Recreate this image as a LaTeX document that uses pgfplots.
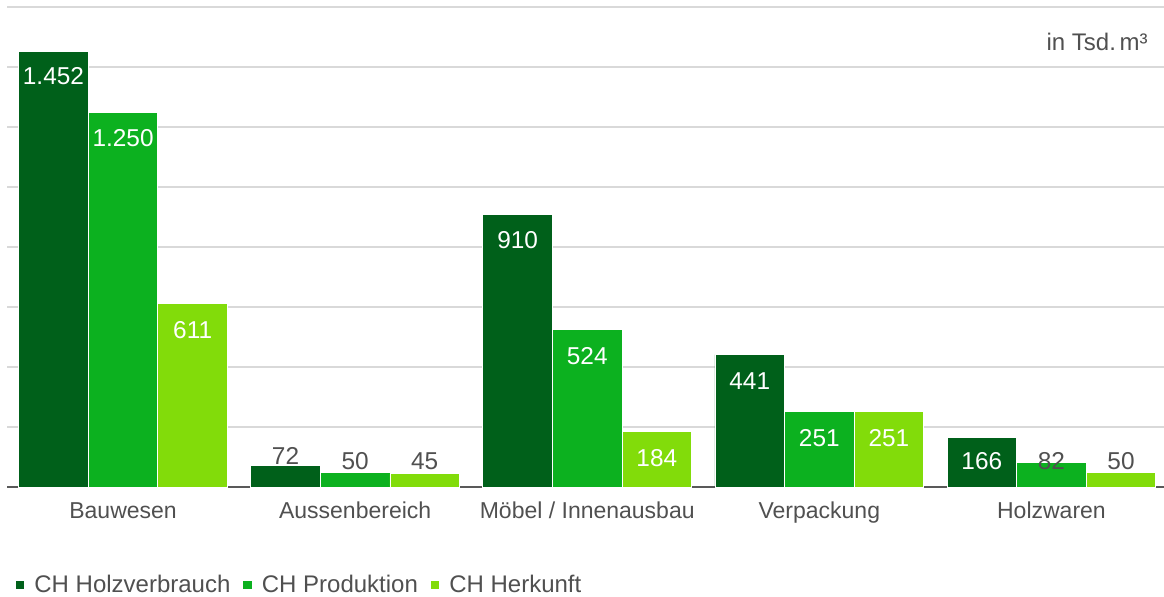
\documentclass[border=0pt]{standalone}
\usepackage{pgfplots}
\usepackage{pgfplotstable}
\pgfplotsset{compat=1.18}
\usepackage{fontspec}
\setmainfont{Liberation Sans}
\definecolor{cA}{RGB}{0,96,26}
\definecolor{cB}{RGB}{12,177,31}
\definecolor{cC}{RGB}{130,220,10}
\definecolor{lblgray}{RGB}{80,80,80}
\definecolor{gridgray}{RGB}{217,217,217}
\definecolor{axgray}{RGB}{89,89,89}

\pgfplotstableread{
x hv hvo hvc pr pro prc hk hko hkc
0 1452 -12.5 100 1250 -13 100 611 -13 100
1 72 4.7 0 50 5.5 0 45 6.25 0
2 910 -13 100 524 -13 100 184 -13 100
3 441 -13 100 251 -13 100 251 -13 100
4 166 -12 100 82 0.7 0 50 5.5 0
}\datatable

\begin{document}
\begin{tikzpicture}
\path[use as bounding box] (-3.5pt,-54.5pt) rectangle (578.5pt,243.5pt);
\begin{axis}[
  at={(0,0)}, anchor=south west,
  scale only axis,
  width=580.25pt, height=240pt,
  xmin=-0.5, xmax=4.5,
  ymin=0, ymax=1600,
  ytick={0,200,...,1600},
  yticklabels={},
  ymajorgrids,
  grid style={gridgray, line width=0.75pt},
  axis x line*=bottom,
  axis y line*=left,
  y axis line style={draw=none},
  x axis line style={axgray, line width=1pt, -},
  major tick length=0pt,
  xtick=data,
  xticklabels={Bauwesen, Aussenbereich, Möbel / Innenausbau, Verpackung, Holzwaren},
  xticklabel style={anchor=base, yshift=-15.5pt, text=lblgray, font=\fontsize{11.5}{13}\selectfont},
  ybar=0pt,
  bar width=34.8pt,
  clip=false,
  /pgf/number format/assume math mode=true,
  /pgf/number format/1000 sep={.},
  nodes near coords,
  nodes near coords style={font=\fontsize{12.2}{14}\selectfont},
  legend columns=3,
  legend style={draw=none, fill=none, inner sep=0pt, outer sep=0pt,
    at={(axis description cs:0,0)}, anchor=west, xshift=4.5pt, yshift=-49pt,
    font=\fontsize{12}{14}\selectfont, text=lblgray,
    nodes={inner sep=0pt},
    /tikz/every odd column/.style={column sep=5pt},
    /tikz/every even column/.style={column sep=6.5pt}},
  legend image code/.code={\path[#1,draw=none] (0pt,-2.1pt) rectangle (4.2pt,2.1pt);},
]
\addplot[fill=cA, draw=white, line width=0.4pt,
  visualization depends on={\thisrow{hvo} \as \lblshift},
  visualization depends on={\thisrow{hvc} \as \lblw},
  every node near coord/.append style={anchor=center, yshift=\lblshift pt, text=white!\lblw!lblgray}]
  table[x=x, y=hv] {\datatable};
\addlegendentry{CH Holzverbrauch}
\addplot[fill=cB, draw=white, line width=0.4pt,
  visualization depends on={\thisrow{pro} \as \lblshift},
  visualization depends on={\thisrow{prc} \as \lblw},
  every node near coord/.append style={anchor=center, yshift=\lblshift pt, text=white!\lblw!lblgray}]
  table[x=x, y=pr] {\datatable};
\addlegendentry{CH Produktion}
\addplot[fill=cC, draw=white, line width=0.4pt,
  visualization depends on={\thisrow{hko} \as \lblshift},
  visualization depends on={\thisrow{hkc} \as \lblw},
  every node near coord/.append style={anchor=center, yshift=\lblshift pt, text=white!\lblw!lblgray}]
  table[x=x, y=hk] {\datatable};
\addlegendentry{CH Herkunft}
\node[anchor=base east, text=lblgray, font=\fontsize{12}{14}\selectfont, inner sep=0pt]
  at (axis description cs:1,1) [xshift=-9.8pt, yshift=-21.5pt] {in Tsd.\hspace{0.15em}m³};
\end{axis}
\end{tikzpicture}
\end{document}
